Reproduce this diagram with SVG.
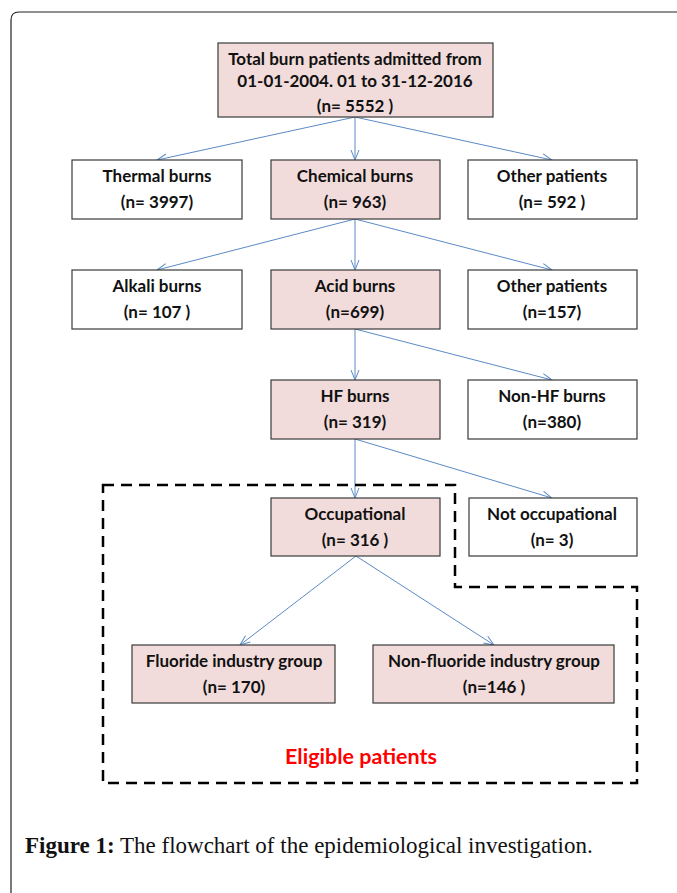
<svg xmlns="http://www.w3.org/2000/svg" width="677" height="893" viewBox="0 0 677 893">
<style>
.n rect{stroke:#3a3a3a;stroke-width:1.2}
.p{fill:#f2dcdb}
.w{fill:#ffffff}
.t{font-family:Lato,"Liberation Sans",sans-serif;font-weight:bold;font-size:17px;fill:#111;text-anchor:middle}
.c line{stroke:#5b8ac6;stroke-width:1;marker-end:url(#a)}
</style>
<defs>
<marker id="a" markerWidth="14" markerHeight="10" refX="11" refY="5" orient="auto" markerUnits="userSpaceOnUse">
<path d="M1,1 L11,5 L1,9" fill="none" stroke="#5b8ac6" stroke-width="1"/>
</marker>
</defs>
<rect width="677" height="893" fill="#fff"/>
<path d="M11,893 V20 Q11,12 19,12 H677" fill="none" stroke="#222" stroke-width="1.2"/>
<g class="c">
<line x1="355" y1="117" x2="157" y2="160"/>
<line x1="355" y1="117" x2="355" y2="160"/>
<line x1="355" y1="117" x2="552" y2="160"/>
<line x1="355" y1="219" x2="157" y2="270"/>
<line x1="355" y1="219" x2="355" y2="270"/>
<line x1="355" y1="219" x2="552" y2="270"/>
<line x1="355" y1="329" x2="355" y2="380"/>
<line x1="355" y1="329" x2="552" y2="380"/>
<line x1="355" y1="439" x2="355" y2="498"/>
<line x1="355" y1="439" x2="552" y2="498"/>
<line x1="356" y1="556" x2="240" y2="645"/>
<line x1="356" y1="556" x2="494" y2="645"/>
</g>
<path d="M103,485 H455 V587 H637 V783 H103 Z" fill="none" stroke="#000" stroke-width="2.5" stroke-dasharray="11,7"/>
<g id="total" class="n"><rect class="p" x="218" y="43" width="275" height="74"/>
<text class="t" x="355" y="65">Total burn patients admitted from</text>
<text class="t" x="355" y="87">01-01-2004. 01 to 31-12-2016</text>
<text class="t" x="355" y="112">(n= 5552 )</text></g>
<g id="thermal" class="n"><rect class="w" x="72" y="160" width="170" height="59"/>
<text class="t" x="157" y="182">Thermal burns</text><text class="t" x="157" y="208">(n= 3997)</text></g>
<g id="chemical" class="n"><rect class="p" x="271" y="160" width="169" height="59"/>
<text class="t" x="355" y="182">Chemical burns</text><text class="t" x="355" y="208">(n= 963)</text></g>
<g id="other1" class="n"><rect class="w" x="468" y="160" width="169" height="59"/>
<text class="t" x="552" y="182">Other patients</text><text class="t" x="552" y="208">(n= 592 )</text></g>
<g id="alkali" class="n"><rect class="w" x="72" y="270" width="170" height="59"/>
<text class="t" x="157" y="292">Alkali burns</text><text class="t" x="157" y="318">(n= 107 )</text></g>
<g id="acid" class="n"><rect class="p" x="271" y="270" width="169" height="59"/>
<text class="t" x="355" y="292">Acid burns</text><text class="t" x="355" y="318">(n=699)</text></g>
<g id="other2" class="n"><rect class="w" x="468" y="270" width="169" height="59"/>
<text class="t" x="552" y="292">Other patients</text><text class="t" x="552" y="318">(n=157)</text></g>
<g id="hf" class="n"><rect class="p" x="271" y="380" width="169" height="59"/>
<text class="t" x="355" y="402">HF burns</text><text class="t" x="355" y="428">(n= 319)</text></g>
<g id="nonhf" class="n"><rect class="w" x="468" y="380" width="169" height="59"/>
<text class="t" x="552" y="402">Non-HF burns</text><text class="t" x="552" y="428">(n=380)</text></g>
<g id="occ" class="n"><rect class="p" x="271" y="498" width="169" height="58"/>
<text class="t" x="355" y="520">Occupational</text><text class="t" x="355" y="546">(n= 316 )</text></g>
<g id="notocc" class="n"><rect class="w" x="469" y="498" width="168" height="58"/>
<text class="t" x="552" y="520">Not occupational</text><text class="t" x="552" y="546">(n= 3)</text></g>
<g id="fluoride" class="n"><rect class="p" x="132" y="645" width="203" height="58"/>
<text class="t" x="234" y="667">Fluoride industry group</text><text class="t" x="234" y="693">(n= 170)</text></g>
<g id="nonfluoride" class="n"><rect class="p" x="373" y="645" width="241" height="58"/>
<text class="t" x="494" y="667">Non-fluoride industry group</text><text class="t" x="494" y="693">(n=146 )</text></g>
<text x="361" y="764" font-family="Lato,'Liberation Sans',sans-serif" font-weight="bold" font-size="21.5" fill="#ff0000" text-anchor="middle">Eligible patients</text>
<text x="25" y="853" font-family="'Liberation Serif',serif" font-size="23" fill="#111"><tspan font-weight="bold">Figure 1:</tspan> The flowchart of the epidemiological investigation.</text>
</svg>
